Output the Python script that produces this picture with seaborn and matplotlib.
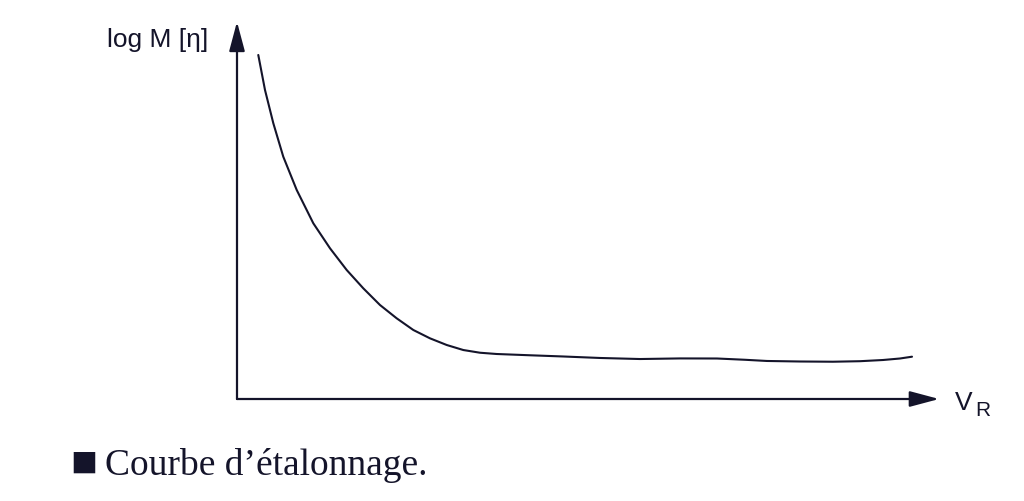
import matplotlib

matplotlib.use("Agg")
import matplotlib.pyplot as plt
import seaborn as sns
import pandas as pd

# volume de rétention (unités arbitraires) et log M [η]
v_r = [0.304, 0.40, 0.519, 0.661, 0.853, 1.09, 1.329, 1.567, 1.804, 2.043,
       2.281, 2.519, 2.757, 2.996, 3.233, 3.471, 3.71, 4.186, 4.657, 5.186,
       5.757, 6.329, 6.857, 7.257, 7.571, 8.043, 8.514, 8.90, 9.229, 9.471,
       9.643]
log_m = [4.587, 4.12, 3.676, 3.231, 2.787, 2.343, 2.009, 1.72, 1.476, 1.253,
         1.076, 0.92, 0.809, 0.72, 0.653, 0.617, 0.60, 0.583, 0.567, 0.547,
         0.533, 0.541, 0.54, 0.523, 0.507, 0.50, 0.497, 0.504, 0.52, 0.54,
         0.564]

y_label = "log M [η]"
x_label = "V"
x_sub = "R"
caption_mark = "■"
caption = "Courbe d’étalonnage."

sns.set_style("white")
plt.rcParams["font.family"] = ["Liberation Sans", "DejaVu Sans"]

ink = "#14142a"
df = pd.DataFrame({"V_R": v_r, "logM": log_m})

fig = plt.figure(figsize=(10.24, 5.01), dpi=100)
ax = fig.add_axes([237 / 1024, 102 / 501, 700 / 1024, 375 / 501])
sns.lineplot(data=df, x="V_R", y="logM", ax=ax, color=ink, lw=1.5,
             estimator=None, sort=False)
ax.set_xlim(0, 10)
ax.set_ylim(0, 5)
for s in ax.spines.values():
    s.set_visible(False)
ax.set_xticks([])
ax.set_yticks([])
ax.set_xlabel("")
ax.set_ylabel("")

# axes avec flèches
arrow = dict(arrowstyle="-|>,head_length=1.2,head_width=0.32", color=ink,
             lw=1.6, mutation_scale=15, shrinkA=0, shrinkB=0)
ax.annotate("", xy=(10.03, 0), xytext=(0, 0), arrowprops=arrow,
            annotation_clip=False)
ax.annotate("", xy=(0, 5.03), xytext=(0, 0), arrowprops=arrow,
            annotation_clip=False)

fig.text(208 / 1024, 1 - 47 / 501, y_label, ha="right", va="baseline",
         fontsize=19, color=ink)
fig.text(955 / 1024, 1 - 410 / 501, x_label, ha="left", va="baseline",
         fontsize=19, color=ink)
fig.text(975 / 1024, 1 - 416 / 501, x_sub, ha="left", va="baseline",
         fontsize=15, color=ink)

# légende sous la figure
serif = ["Liberation Serif", "DejaVu Serif"]
fig.text(70 / 1024, 1 - 476 / 501, caption_mark, ha="left", va="baseline",
         fontsize=32, color=ink, family=serif)
fig.text(105 / 1024, 1 - 475 / 501, caption, ha="left", va="baseline",
         fontsize=27, color=ink, family=serif)

fig.savefig("out.png", dpi=100)
plt.close(fig)
